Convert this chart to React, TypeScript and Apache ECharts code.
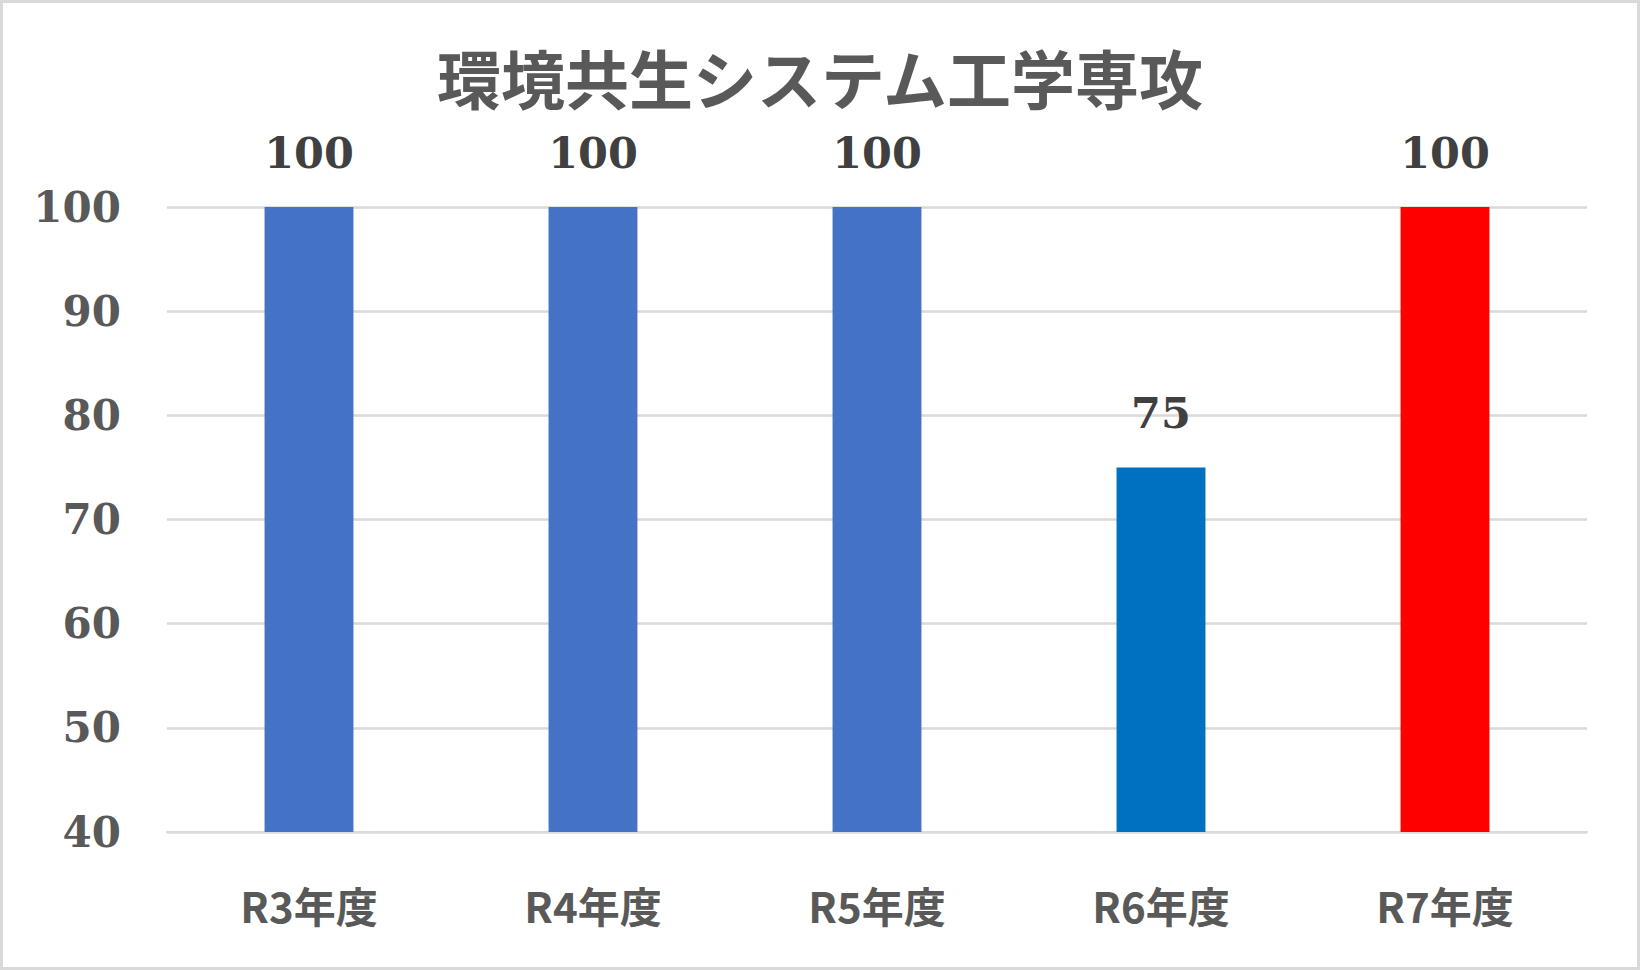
import React, { useEffect, useRef } from "react";
import * as echarts from "echarts";

const title = "環境共生システム工学専攻";
const categories = ["R3年度", "R4年度", "R5年度", "R6年度", "R7年度"];
const values = [100, 100, 100, 75, 100];
const barColors = ["#4472C4", "#4472C4", "#4472C4", "#0070C0", "#FF0000"];
const yMin = 40;
const yMax = 100;
const yInterval = 10;

export default function App() {
  const ref = useRef<HTMLDivElement>(null);
  useEffect(() => {
    document.body.style.margin = "0";
    if (!ref.current) return;
    const chart = echarts.init(ref.current, null, { renderer: "svg" });
    chart.setOption({
      animation: false,
      backgroundColor: "#ffffff",
      title: {
        text: title,
        left: "center",
        top: 29,
        textStyle: {
          fontFamily: "Noto Sans CJK JP",
          fontWeight: "bold",
          fontSize: 64,
          color: "#595959",
          lineHeight: 78,
        },
      },
      grid: { left: 164, right: 50, top: 204, bottom: 135 },
      xAxis: {
        type: "category",
        data: categories,
        axisTick: { show: false },
        axisLine: { show: true, lineStyle: { color: "#D9D9D9", width: 2 } },
        axisLabel: {
          margin: 51,
          fontFamily: "Noto Sans CJK JP",
          fontWeight: "bold",
          fontSize: 42,
          lineHeight: 42,
          color: "#595959",
        },
      },
      yAxis: {
        type: "value",
        min: yMin,
        max: yMax,
        interval: yInterval,
        axisLine: { show: false },
        axisTick: { show: false },
        splitLine: { lineStyle: { color: "#D9D9D9", width: 2.5 } },
        axisLabel: {
          margin: 46,
          fontFamily: "DejaVu Serif",
          fontWeight: "bold",
          fontSize: 42,
          color: "#595959",
        },
      },
      series: [
        {
          type: "bar",
          barWidth: "31.3%",
          data: values.map((v, i) => ({ value: v, itemStyle: { color: barColors[i] } })),
          label: {
            show: true,
            position: "top",
            distance: 29,
            fontFamily: "DejaVu Serif",
            fontWeight: "bold",
            fontSize: 43,
            lineHeight: 50,
            color: "#404040",
          },
        },
      ],
    });
    return () => chart.dispose();
  }, []);
  return (
    <div
      style={{
        width: 1640,
        height: 970,
        boxSizing: "border-box",
        border: "3px solid #D9D9D9",
        background: "#fff",
      }}
    >
      <div ref={ref} style={{ width: 1634, height: 964 }} />
    </div>
  );
}
